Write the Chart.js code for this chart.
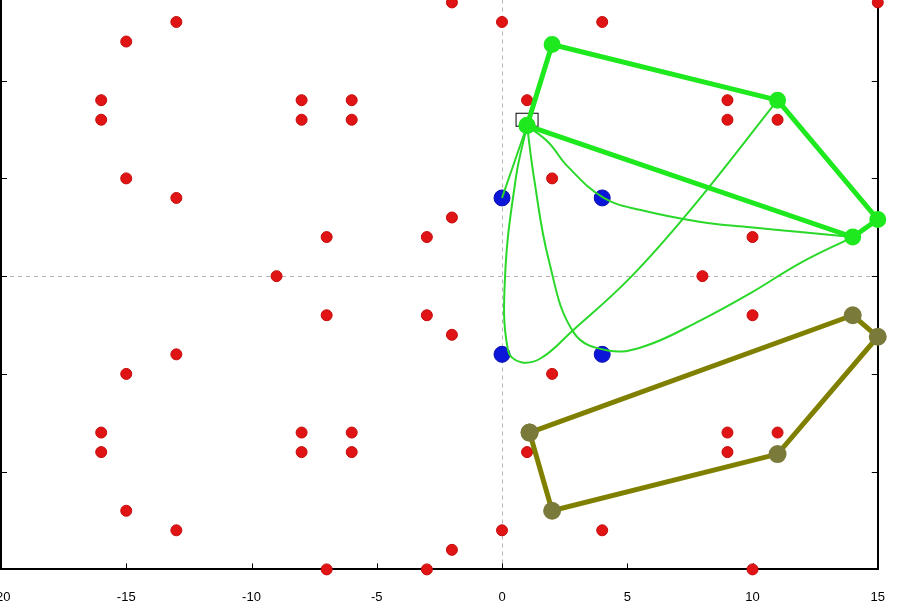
<!DOCTYPE html>
<html>
<head>
<meta charset="utf-8">
<script src="https://cdn.jsdelivr.net/npm/chart.js@4.4.1/dist/chart.umd.min.js"></script>
<style>
  html, body { margin: 0; padding: 0; background: #fff; overflow: hidden; }
  #wrap { position: absolute; left: -40px; top: -12px; width: 945px; height: 647px; }
</style>
</head>
<body>
<div id="wrap"><canvas id="chart"></canvas></div>
<script>
// Datos
const xTicks = [-20, -15, -10, -5, 0, 5, 10, 15];

const redX = [-2, -13, 0, 4, 15, -15, -16, -8, -6, 1, 9, 11, -16, -8, -6, 9, 11, -15, 2, -13, 0, 4, -2, -7, -3, 10, -9, 8,
  -7, -3, 10, -2, -13, 0, 4, -15, 2, -16, -8, -6, 9, 11, -16, -8, -6, 1, 9, 11, -15, -13, 0, 4, -2, -7, -3, 10];
const redY = [14, 13, 13, 13, 14, 12, 9, 9, 9, 9, 9, 9, 8, 8, 8, 8, 8, 5, 5, 4, 4, 4, 3, 2, 2, 2, 0, 0,
  -2, -2, -2, -3, -4, -4, -4, -5, -5, -8, -8, -8, -8, -8, -9, -9, -9, -9, -9, -9, -12, -13, -13, -13, -14, -15, -15, -15];

const blueX = [0, 4, 0, 4];
const blueY = [4, 4, -4, -4];

const markX = [1];
const markY = [8];

const greenPolyX = [1, 2, 11, 15, 14, 1];
const greenPolyY = [7.7, 11.85, 9, 2.9, 2, 7.7];

const olivePolyX = [1.1, 14, 15, 11, 2, 1.1];
const olivePolyY = [-8, -2, -3.1, -9.1, -12, -8];

const curveAX = [1, 0];
const curveAY = [7.7, 4];
const curveBX = [1, 0.56, 0.12, 0.24, 0.76, 1.55, 2.75, 5.14, 7.53, 11];
const curveBY = [7.7, 5.08, -0.05, -3.8, -4.4, -4.2, -2.87, -0.05, 3.4, 9];
const curveCX = [1, 1.27, 1.87, 2.87, 4.22, 5.66, 7.93, 9.92, 11.9, 14];
const curveCY = [7.7, 5.08, 0.8, -2.9, -3.8, -3.6, -2.26, -0.87, 0.67, 2];
const curveDX = [1, 1.83, 2.63, 4.06, 5.54, 7.93, 9.92, 11.9, 14];
const curveDY = [7.7, 6.87, 5.6, 4.0, 3.38, 2.77, 2.5, 2.26, 2];

const pts = (xs, ys) => xs.map((x, i) => ({ x: x, y: ys[i] }));

// Marcador rectangular hueco
const rectMark = document.createElement("canvas");
rectMark.width = 25;
rectMark.height = 16;
const rc = rectMark.getContext("2d");
rc.strokeStyle = "#000";
rc.lineWidth = 1;
rc.strokeRect(1.5, 1.5, 22, 13);

const green = "#1ee81e";
const thinGreen = "#2ad82a";

function curve(xs, ys) {
  return {
    data: pts(xs, ys),
    showLine: true,
    borderColor: thinGreen,
    borderWidth: 2,
    pointRadius: 0,
    tension: 0.4,
    clip: false,
  };
}

// Marcas de los ejes hacia dentro
const innerTicks = {
  id: "innerTicks",
  beforeDatasetsDraw(chart) {
    const { ctx, chartArea: a, scales: { x, y } } = chart;
    ctx.save();
    ctx.strokeStyle = "#000";
    ctx.lineWidth = 1;
    ctx.beginPath();
    x.ticks.forEach((t) => {
      const px = Math.round(x.getPixelForValue(t.value)) + 0.5;
      ctx.moveTo(px, a.bottom);
      ctx.lineTo(px, a.bottom - 6);
    });
    y.ticks.forEach((t) => {
      if (t.value % 5 !== 0) return;
      const py = Math.round(y.getPixelForValue(t.value)) + 0.5;
      ctx.moveTo(a.left, py);
      ctx.lineTo(a.left + 6, py);
      ctx.moveTo(a.right, py);
      ctx.lineTo(a.right - 6, py);
    });
    ctx.stroke();
    ctx.restore();
  },
};

const zeroGrid = (c) => (c.tick && c.tick.value === 0 ? "#b4b4b4" : "rgba(0,0,0,0)");

new Chart(document.getElementById("chart"), {
  type: "scatter",
  data: {
    datasets: [
      {
        data: pts(greenPolyX, greenPolyY),
        showLine: true,
        borderColor: green,
        borderWidth: 5,
        pointRadius: 6,
        pointBackgroundColor: green,
        pointBorderColor: green,
        tension: 0,
        clip: false,
      },
      curve(curveAX, curveAY),
      curve(curveBX, curveBY),
      curve(curveCX, curveCY),
      curve(curveDX, curveDY),
      {
        data: pts(markX, markY),
        pointStyle: rectMark,
        clip: false,
      },
      {
        data: pts(olivePolyX, olivePolyY),
        showLine: true,
        borderColor: "#808000",
        borderWidth: 5,
        pointRadius: 6.5,
        pointBackgroundColor: "#7a7a3a",
        pointBorderColor: "#7a7a3a",
        tension: 0,
        clip: false,
      },
      {
        data: pts(blueX, blueY),
        pointRadius: 8,
        pointBackgroundColor: "#0c16d8",
        pointBorderColor: "#0a10b0",
        pointBorderWidth: 1,
        clip: false,
      },
      {
        data: pts(redX, redY),
        pointRadius: 5.5,
        pointBackgroundColor: "#e01414",
        pointBorderColor: "#c40a0a",
        pointBorderWidth: 1,
        clip: false,
      },
    ],
  },
  options: {
    responsive: true,
    maintainAspectRatio: false,
    animation: false,
    layout: { padding: { left: 41, right: 19, top: 0, bottom: 10 } },
    plugins: { legend: { display: false }, tooltip: { enabled: false } },
    scales: {
      x: {
        type: "linear",
        min: xTicks[0],
        max: xTicks[xTicks.length - 1],
        afterBuildTicks: (s) => { s.ticks = xTicks.map((v) => ({ value: v })); },
        ticks: {
          color: "#000",
          padding: 20,
          maxRotation: 0,
          font: { family: "Liberation Sans", size: 13 },
        },
        grid: { color: zeroGrid, lineWidth: 1, drawTicks: false },
        border: { display: true, color: "#000", width: 2, dash: [4, 4] },
      },
      y: {
        position: "left",
        min: -15,
        max: 14.15,
        ticks: { display: false, stepSize: 5 },
        grid: { color: zeroGrid, lineWidth: 1, drawTicks: false },
        border: { display: true, color: "#000", width: 2, dash: [4, 4] },
      },
      y2: {
        position: "right",
        min: -15,
        max: 14.15,
        ticks: { display: false },
        grid: { display: false, drawTicks: false },
        border: { display: true, color: "#000", width: 2 },
      },
    },
  },
  plugins: [innerTicks],
});
</script>
</body>
</html>
